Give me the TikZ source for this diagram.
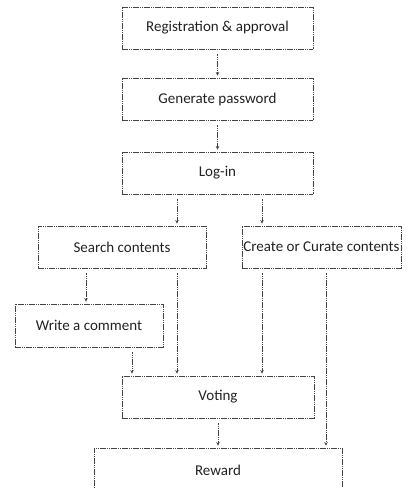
\documentclass[tikz,border=0pt]{standalone}
\usepackage{fontspec}
\setmainfont{Carlito}
\usepackage{xcolor}
\usetikzlibrary{arrows.meta,positioning}
\definecolor{linegray}{HTML}{444444}
\definecolor{textgray}{HTML}{222222}

\begin{document}
\begin{tikzpicture}[x=1pt, y=-1pt,
  every node/.style={font=\fontsize{15}{18}\selectfont, text=textgray},
  box/.style={draw=linegray, dash pattern=on 1.6pt off 0.6pt, line width=0.9pt, align=center, inner sep=0pt, minimum height=42pt},
  arr/.style={-{Stealth[length=3.5pt, width=3.5pt]}, draw=linegray, dash pattern=on 1.6pt off 0.6pt, line width=0.9pt, shorten <=5pt, shorten >=2pt}]
\clip (0,0) rectangle (407,488);
\node[box, minimum width=191pt] (reg) at (217.5,28) {Registration \& approval};
\node[box, minimum width=191pt] (pwd) at (217.5,99) {Generate password};
\node[box, minimum width=191pt] (login) at (217.5,173) {Log-in};
\node[box, minimum width=168pt] (search) at (122,247) {Search contents};
\node[box, minimum width=159pt] (create) at (321.5,247) {Create or Curate contents};
\node[box, minimum width=148pt, minimum height=43pt] (comment) at (89,325.5) {Write a comment};
\node[box, minimum width=192pt] (vote) at (218,397) {Voting};
\node[box, minimum width=248pt, minimum height=44pt] (reward) at (218,470) {Reward};
\draw[arr] (reg) -- (pwd); \draw[arr] (pwd) -- (login);
\draw[arr] ([xshift=-40.5pt]login.south) -- ([xshift=-40.5pt]login.south |- search.north);
\draw[arr] ([xshift=44.5pt]login.south) -- ([xshift=44.5pt]login.south |- create.north);
\draw[arr] ([xshift=-36pt]search.south) -- ([xshift=-36pt]search.south |- comment.north);
\draw[arr] ([xshift=55pt]search.south) -- ([xshift=55pt]search.south |- vote.north);
\draw[arr] ([xshift=-59.5pt]create.south) -- ([xshift=-59.5pt]create.south |- vote.north);
\draw[arr] ([xshift=43pt]comment.south) -- ([xshift=43pt]comment.south |- vote.north);
\draw[arr] (vote) -- (vote.south |- reward.north);
\draw[arr] ([xshift=4.5pt]create.south) -- ([xshift=4.5pt]create.south |- reward.north);
\end{tikzpicture}
\end{document}
